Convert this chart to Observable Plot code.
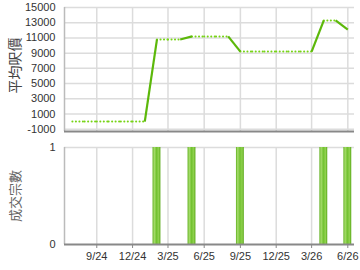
<!DOCTYPE html>
<html><head><meta charset="utf-8">
<script src="https://cdn.jsdelivr.net/npm/d3@7"></script>
<script src="https://cdn.jsdelivr.net/npm/@observablehq/plot@0.6"></script>
<style>
body{margin:0;background:#fff;width:360px;height:270px;overflow:hidden;font-family:"Liberation Sans",Arial,sans-serif}
svg{display:block}
</style></head><body><div id="c"></div>
<script>
const months = ["2024-07","2024-08","2024-09","2024-10","2024-11","2024-12","2025-01","2025-02","2025-03","2025-04","2025-05","2025-06","2025-07","2025-08","2025-09","2025-10","2025-11","2025-12","2026-01","2026-02","2026-03","2026-04","2026-05","2026-06"];
const avgPrice = [0,0,0,0,0,0,0,10800,10800,10800,11200,11200,11200,11200,9200,9200,9200,9200,9200,9200,9200,13300,13300,12100];
const deals = [0,0,0,0,0,0,0,1,0,0,1,0,0,0,1,0,0,0,0,0,0,1,0,1];
const xTickMonths = ["2024-09","2024-12","2025-03","2025-06","2025-09","2025-12","2026-03","2026-06"];
const xTickLabels = ["9/24","12/24","3/25","6/25","9/25","12/25","3/26","6/26"];
const yTicksTop = [-1000,1000,3000,5000,7000,9000,11000,13000,15000];
const yTicksBottom = [0,1];
const topLabel = "平均呎價";
const bottomLabel = "成交宗數";

const parse = d3.utcParse("%Y-%m");
const dates = months.map(parse);
const tickDates = xTickMonths.map(parse);
const labelOf = new Map(tickDates.map((d,i)=>[+d, xTickLabels[i]]));
const xDomain = [new Date(Date.UTC(2024,5,11)), new Date(Date.UTC(2026,5,18))];

const segs = [];
for (let i = 1; i < dates.length; i++) {
  segs.push({x1: dates[i-1], y1: avgPrice[i-1], x2: dates[i], y2: avgPrice[i], solid: deals[i] > 0});
}
const day = 86400000;
const bars = dates.map((d,i)=>({x1:new Date(+d-10*day), x2:new Date(+d+10*day), v:deals[i]})).filter(b=>b.v>0);

const gridColor = "#dcdcdc";
const cjk = "'Noto Sans CJK TC','Noto Sans CJK SC',sans-serif";
const plain = d => String(d);

const priceChart = Plot.plot({
  width: 360, height: 140,
  marginLeft: 64, marginRight: 6, marginTop: 7, marginBottom: 9,
  style: {fontFamily: "'Liberation Sans',Arial,sans-serif", fontSize: "11px", color: "#333", background: "transparent"},
  x: {type: "utc", domain: xDomain},
  y: {domain: [-1300, 15000]},
  marks: [
    Plot.ruleY(yTicksTop, {stroke: gridColor, strokeWidth: 1.5}),
    Plot.ruleX(tickDates, {stroke: gridColor, strokeWidth: 1.5}),
    Plot.ruleX([xDomain[0]], {stroke: "#bbb", strokeWidth: 1.5}),
    Plot.ruleY([-1300], {stroke: "#888", strokeWidth: 2}),
    Plot.axisY(yTicksTop, {tickSize: 0, tickPadding: 9, fontSize: 11, fill: "#333", label: null, tickFormat: plain}),
    Plot.axisX([], {label: null}),
    Plot.link(segs.filter(s=>!s.solid), {x1:"x1", y1:"y1", x2:"x2", y2:"y2", stroke: "#77d416", strokeWidth: 2, strokeDasharray: "0.1,3.4", strokeLinecap: "round"}),
    Plot.link(segs.filter(s=>s.solid), {x1:"x1", y1:"y1", x2:"x2", y2:"y2", stroke: "#5cb80a", strokeWidth: 2.2}),
    Plot.text([topLabel], {frameAnchor: "left", textAnchor: "middle", dx: -49, dy: -4, rotate: -90, fontSize: 14, fill: "#444", fontFamily: cjk})
  ]
});

const dealChart = Plot.plot({
  width: 360, height: 130,
  marginLeft: 64, marginRight: 6, marginTop: 7, marginBottom: 26,
  style: {fontFamily: "'Liberation Sans',Arial,sans-serif", fontSize: "11px", color: "#333", background: "transparent"},
  x: {type: "utc", domain: xDomain},
  y: {domain: [0, 1]},
  marks: [
    Plot.ruleY([1], {stroke: gridColor, strokeWidth: 1.5}),
    Plot.ruleX(tickDates, {stroke: gridColor, strokeWidth: 1.5}),
    Plot.ruleX([xDomain[0]], {stroke: "#bbb", strokeWidth: 1.5}),
    Plot.rectY(bars, {x1: "x1", x2: "x2", y: "v", fill: "url(#barGrad)"}),
    Plot.ruleY([0], {stroke: "#888", strokeWidth: 2}),
    Plot.axisY(yTicksBottom, {tickSize: 0, tickPadding: 9, fontSize: 11, fill: "#333", label: null, tickFormat: plain}),
    Plot.axisX(tickDates, {tickSize: 4, stroke: "#888", tickPadding: 4, fontSize: 11, fill: "#333", label: null, tickFormat: d => labelOf.get(+d)}),
    Plot.text([bottomLabel], {frameAnchor: "left", textAnchor: "middle", dx: -49, rotate: -90, fontSize: 13, fill: "#666", fontFamily: cjk})
  ]
});

const ns = "http://www.w3.org/2000/svg";
const defs = document.createElementNS(ns, "defs");
const grad = document.createElementNS(ns, "linearGradient");
grad.setAttribute("id", "barGrad");
grad.setAttribute("x1", "0"); grad.setAttribute("x2", "1"); grad.setAttribute("y1", "0"); grad.setAttribute("y2", "0");
[["0","#5fb01c"],["0.22","#a6dc6c"],["0.5","#72c230"],["0.78","#8fd14e"],["1","#56a614"]].forEach(([o,c])=>{
  const s = document.createElementNS(ns, "stop"); s.setAttribute("offset", o); s.setAttribute("stop-color", c); grad.appendChild(s);
});
defs.appendChild(grad);
dealChart.insertBefore(defs, dealChart.firstChild);

const c = document.getElementById("c");
c.appendChild(priceChart);
c.appendChild(dealChart);
</script></body></html>
